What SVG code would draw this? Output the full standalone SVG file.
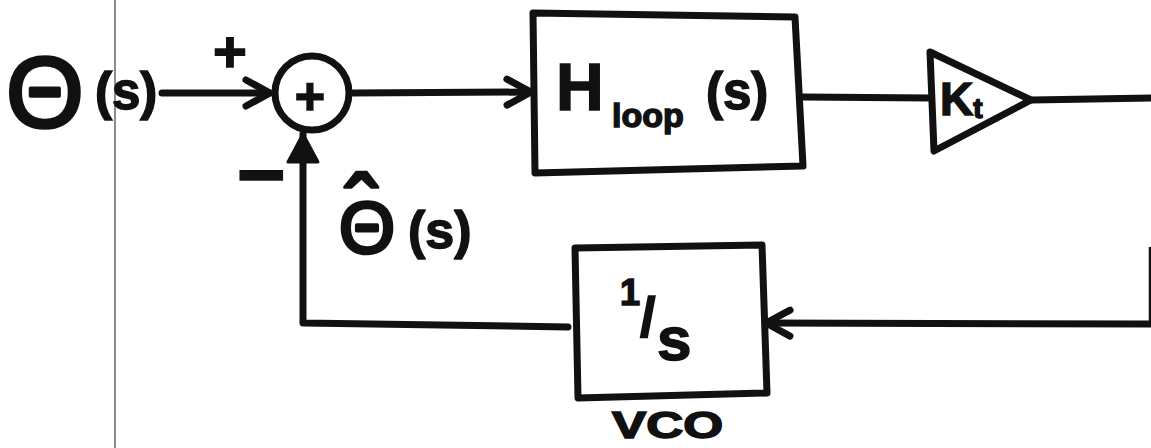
<svg xmlns="http://www.w3.org/2000/svg" width="1151" height="448" viewBox="0 0 1151 448">
<style>
.ln{fill:none;stroke:#111;stroke-width:7;stroke-linecap:round;stroke-linejoin:round}
.blk{fill:none;stroke:#111;stroke-width:7;stroke-linejoin:round}
.t{font-family:"Liberation Sans",Arial,sans-serif;font-weight:bold;fill:#111;stroke:#111;stroke-width:1.5}
.th{font-family:"Liberation Sans",Arial,sans-serif;font-weight:normal;fill:#111;stroke:#111;stroke-width:3.5;stroke-linejoin:round}
</style>
<defs>
<marker id="open" markerUnits="userSpaceOnUse" markerWidth="40" markerHeight="40" refX="30" refY="20" orient="auto" viewBox="0 0 40 40">
<path d="M6,7 L30,20 L6,33" fill="none" stroke="#111" stroke-width="7" stroke-linecap="round" stroke-linejoin="round"/>
</marker>
<marker id="fill" markerUnits="userSpaceOnUse" markerWidth="40" markerHeight="40" refX="32" refY="20" orient="auto" viewBox="0 0 40 40">
<path d="M4,5 L32,20 L4,35 Z" fill="#111" stroke="#111" stroke-width="3" stroke-linejoin="round"/>
</marker>
</defs>
<rect width="1151" height="448" fill="#fff"/>
<line x1="115" y1="0" x2="115" y2="448" stroke="#666" stroke-width="1.5"/>

<g id="connectors">
<path class="ln" d="M162,93 L270,93" marker-end="url(#open)"/>
<path class="ln" d="M353,93 L531,92" marker-end="url(#open)"/>
<path class="ln" d="M803,97 L930,98"/>
<path class="ln" d="M1032,100 L1151,98"/>
<line x1="1150" y1="247" x2="1150" y2="327" stroke="#111" stroke-width="2.5"/>
<path class="ln" d="M1151,324 L766,323" marker-end="url(#open)"/>
<path class="ln" d="M568,327 L303,323 L303,134" marker-end="url(#fill)"/>
</g>

<g id="input">
<text class="th" x="45" y="127" font-size="100" text-anchor="middle">Θ</text>
<text class="t" x="95" y="109" font-size="51">(s)</text>
</g>

<g id="signs">
<text class="t" x="230" y="72" font-size="58" text-anchor="middle">+</text>
<text class="t" x="261" y="203" font-size="84" text-anchor="middle">−</text>
</g>

<g id="summer">
<circle class="blk" cx="312" cy="93" r="37"/>
<text class="t" x="310" y="114" font-size="52" text-anchor="middle">+</text>
</g>

<g id="feedback-label">
<text class="th" font-size="72"><tspan x="339" y="253">Θ</tspan><tspan class="t" x="344" y="244" font-size="96">ˆ</tspan><tspan class="t" x="408" y="248" font-size="52">(s)</tspan></text>
</g>

<g id="hloop">
<path class="blk" d="M533,13 L795,17 L803,166 L535,173 Z"/>
<text class="t" x="556" y="110" font-size="66">H</text>
<text class="t" x="612" y="127" font-size="34">loop</text>
<text class="t" x="706" y="109" font-size="51">(s)</text>
</g>

<g id="kt">
<path class="blk" d="M930,52 L1031,100 L934,151 Z"/>
<text class="t" x="940" y="115" font-size="46">K<tspan font-size="28" dy="3">t</tspan></text>
</g>

<g id="vco">
<path class="blk" d="M575,248 L762,245 L767,393 L578,398 Z"/>
<text class="t" font-size="36"><tspan x="620" y="305">1</tspan><tspan x="640" y="336" font-size="56">/</tspan><tspan x="657" y="360" font-size="62">s</tspan></text>
<text class="t" x="612" y="438" font-size="36" textLength="111" lengthAdjust="spacingAndGlyphs">VCO</text>
</g>
</svg>
